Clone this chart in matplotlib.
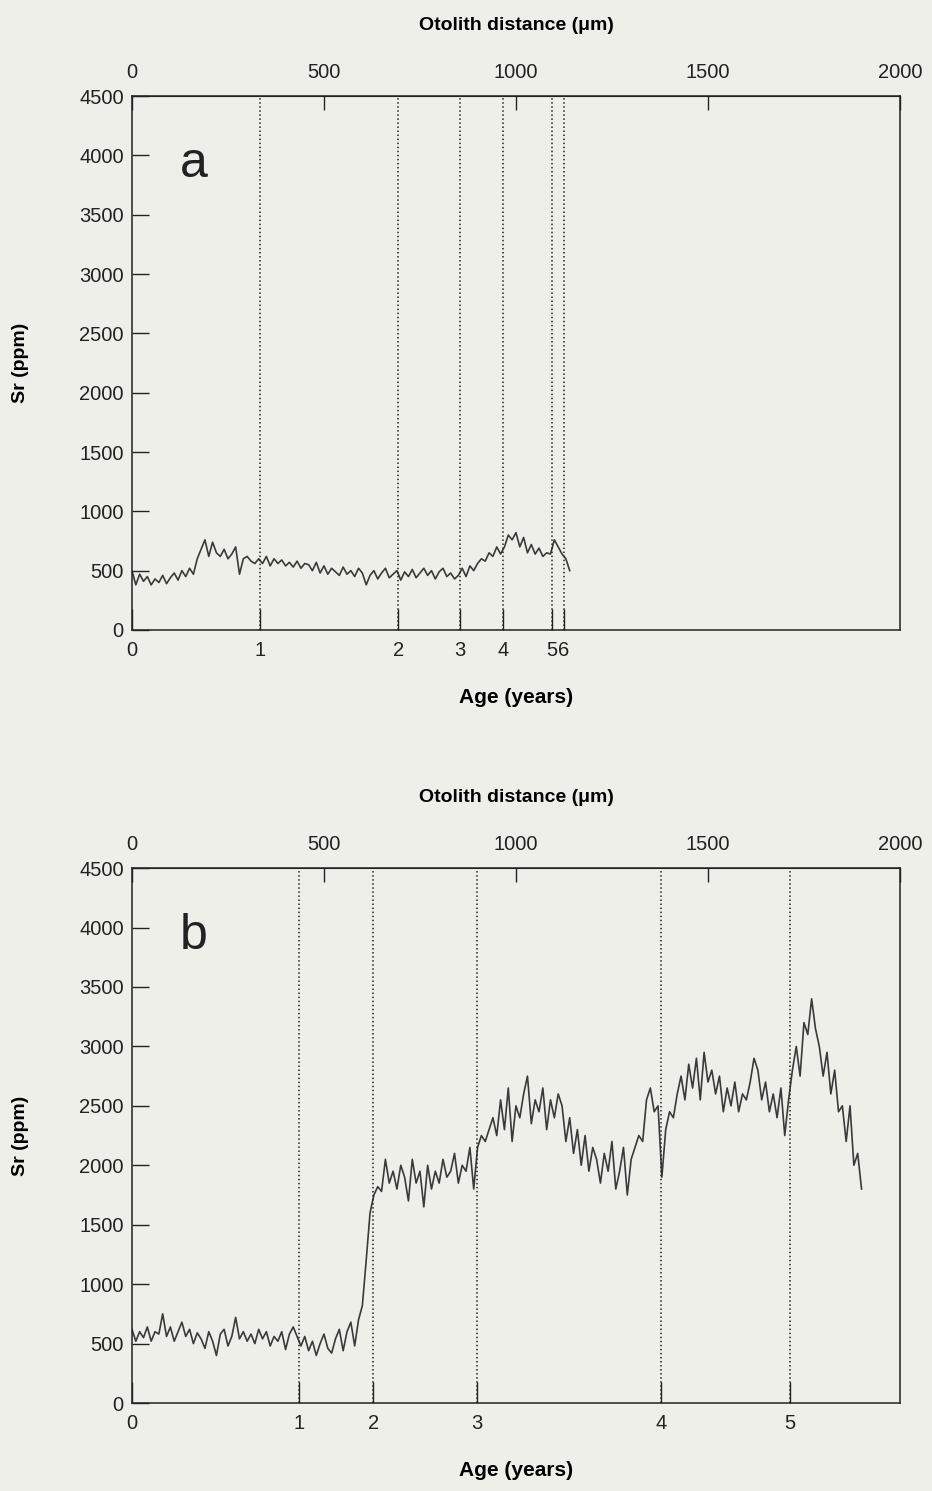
import numpy as np
import matplotlib
matplotlib.use("Agg")
import matplotlib.pyplot as plt

plt.rcParams['font.family'] = ['Liberation Sans', 'DejaVu Sans']

# sampling positions along the otolith transect (um)
dist_a = np.arange(0, 1141, 10)
dist_b = np.arange(0, 1901, 10)

# Sr (ppm)
sr_a = [500, 380, 470, 410, 450, 380, 430, 400, 460, 390, 440, 480, 420, 500, 450, 520, 470,
        600, 680, 760, 620, 740, 650, 620, 680, 600, 640, 700, 470, 600, 620, 580, 560, 600,
        560, 620, 540, 600, 560, 590, 540, 570, 530, 580, 520, 560, 550, 500, 570, 480, 540, 470,
        520, 490, 460, 530, 470, 500, 450, 520, 480, 380, 460, 500, 430, 480, 520, 440, 470, 500,
        420, 490, 450, 510, 440, 480, 520, 460, 500, 430, 490, 520, 450, 480, 430, 460,
        520, 450, 540, 500, 560, 600, 580, 650, 620, 700, 640,
        700, 800, 760, 820, 700, 780, 650, 720, 640, 690, 620, 650, 640,
        760, 700, 640, 600, 500]

# Sr (ppm)
sr_b = [620, 520, 600, 550, 640, 520, 600, 580, 750, 560, 640, 520, 600, 680, 560, 620, 500, 590, 540, 460, 600,
        520, 400, 580, 620, 480, 560, 720, 540, 600, 520, 580, 500, 620, 540, 600, 480, 560, 520, 600, 450, 580, 640, 560,
        480, 560, 440, 520, 400, 500, 580, 460, 420, 540, 620, 440, 600, 680, 480,
        700, 820, 1200, 1600, 1750, 1820,
        1780, 2050, 1850, 1950, 1800, 2000, 1900, 1700, 2050, 1850, 1950, 1650, 2000, 1800, 1950, 1850, 2050,
        1900, 1950, 2100, 1850, 2000, 1950, 2150, 1800,
        2150, 2250, 2200, 2300, 2400, 2250, 2550, 2300, 2650, 2200, 2500, 2400, 2600, 2750, 2350, 2550, 2450,
        2650, 2300, 2550, 2400,
        2600, 2500, 2200, 2400, 2100, 2300, 2000, 2250, 1950, 2150, 2050, 1850, 2100, 1950, 2200, 1800, 1950,
        2150, 1750,
        2050, 2150, 2250, 2200, 2550, 2650, 2450, 2500,
        1900, 2300, 2450, 2400, 2600, 2750, 2550, 2850, 2650, 2900, 2550, 2950, 2700,
        2800, 2600, 2750, 2450, 2650, 2500, 2700, 2450, 2600, 2550, 2700, 2900, 2800, 2550, 2700, 2450, 2600,
        2400, 2650, 2250, 2550,
        2800, 3000, 2750, 3200, 3100, 3400, 3150, 3000, 2750, 2950, 2600, 2800, 2450, 2500, 2200, 2500, 2000,
        2100, 1800]

# annual ring positions (um)
rings_a = [333, 693, 854, 966, 1094, 1125]
rings_b = [435, 628, 898, 1378, 1714]

bg = '#efefe9'
fig = plt.figure(figsize=(9.32, 14.91), dpi=100, facecolor=bg)

panels = [
    ([0.1416, 0.5775, 0.824, 0.358], dist_a, sr_a, rings_a, 'a'),
    ([0.1416, 0.059, 0.824, 0.3588], dist_b, sr_b, rings_b, 'b'),
]

for rect, d, sr, rings, letter in panels:
    ax = fig.add_axes(rect)
    ax.set_facecolor(bg)
    ax.plot(d, sr, color='#3a3a3a', lw=1.2)
    for r in rings:
        ax.axvline(r, color='#222222', ls=':', lw=1.1)
    ax.set_xlim(0, 2000)
    ax.set_ylim(0, 4500)
    ax.set_yticks(np.arange(0, 4501, 500))
    ax.set_xticks([0] + rings)
    ax.set_xticklabels([str(i) for i in range(len(rings) + 1)])
    ax.tick_params(axis='both', direction='in', labelsize=14.5, length=12, width=1,
                   pad=6, colors='#222222')
    ax.tick_params(axis='x', length=15, pad=8)
    ax.set_ylabel('Sr (ppm)', fontsize=14, fontweight='bold', labelpad=36)
    ax.set_xlabel('Age (years)', fontsize=15, fontweight='bold', labelpad=20)
    for s in ax.spines.values():
        s.set_linewidth(1.1)
        s.set_color('#222222')

    top = ax.secondary_xaxis('top')
    top.set_xticks([0, 500, 1000, 1500, 2000])
    top.tick_params(direction='in', labelsize=14.5, length=10, width=1, pad=10, colors='#222222')
    top.spines['top'].set_color('#222222')
    top.set_xlabel('Otolith distance (\u03bcm)', fontsize=14, fontweight='bold', labelpad=24)

    ax.text(160, 3930, letter, fontsize=36, ha='center', va='center', color='#222222')

fig.savefig('out.png', dpi=100, facecolor=bg)
